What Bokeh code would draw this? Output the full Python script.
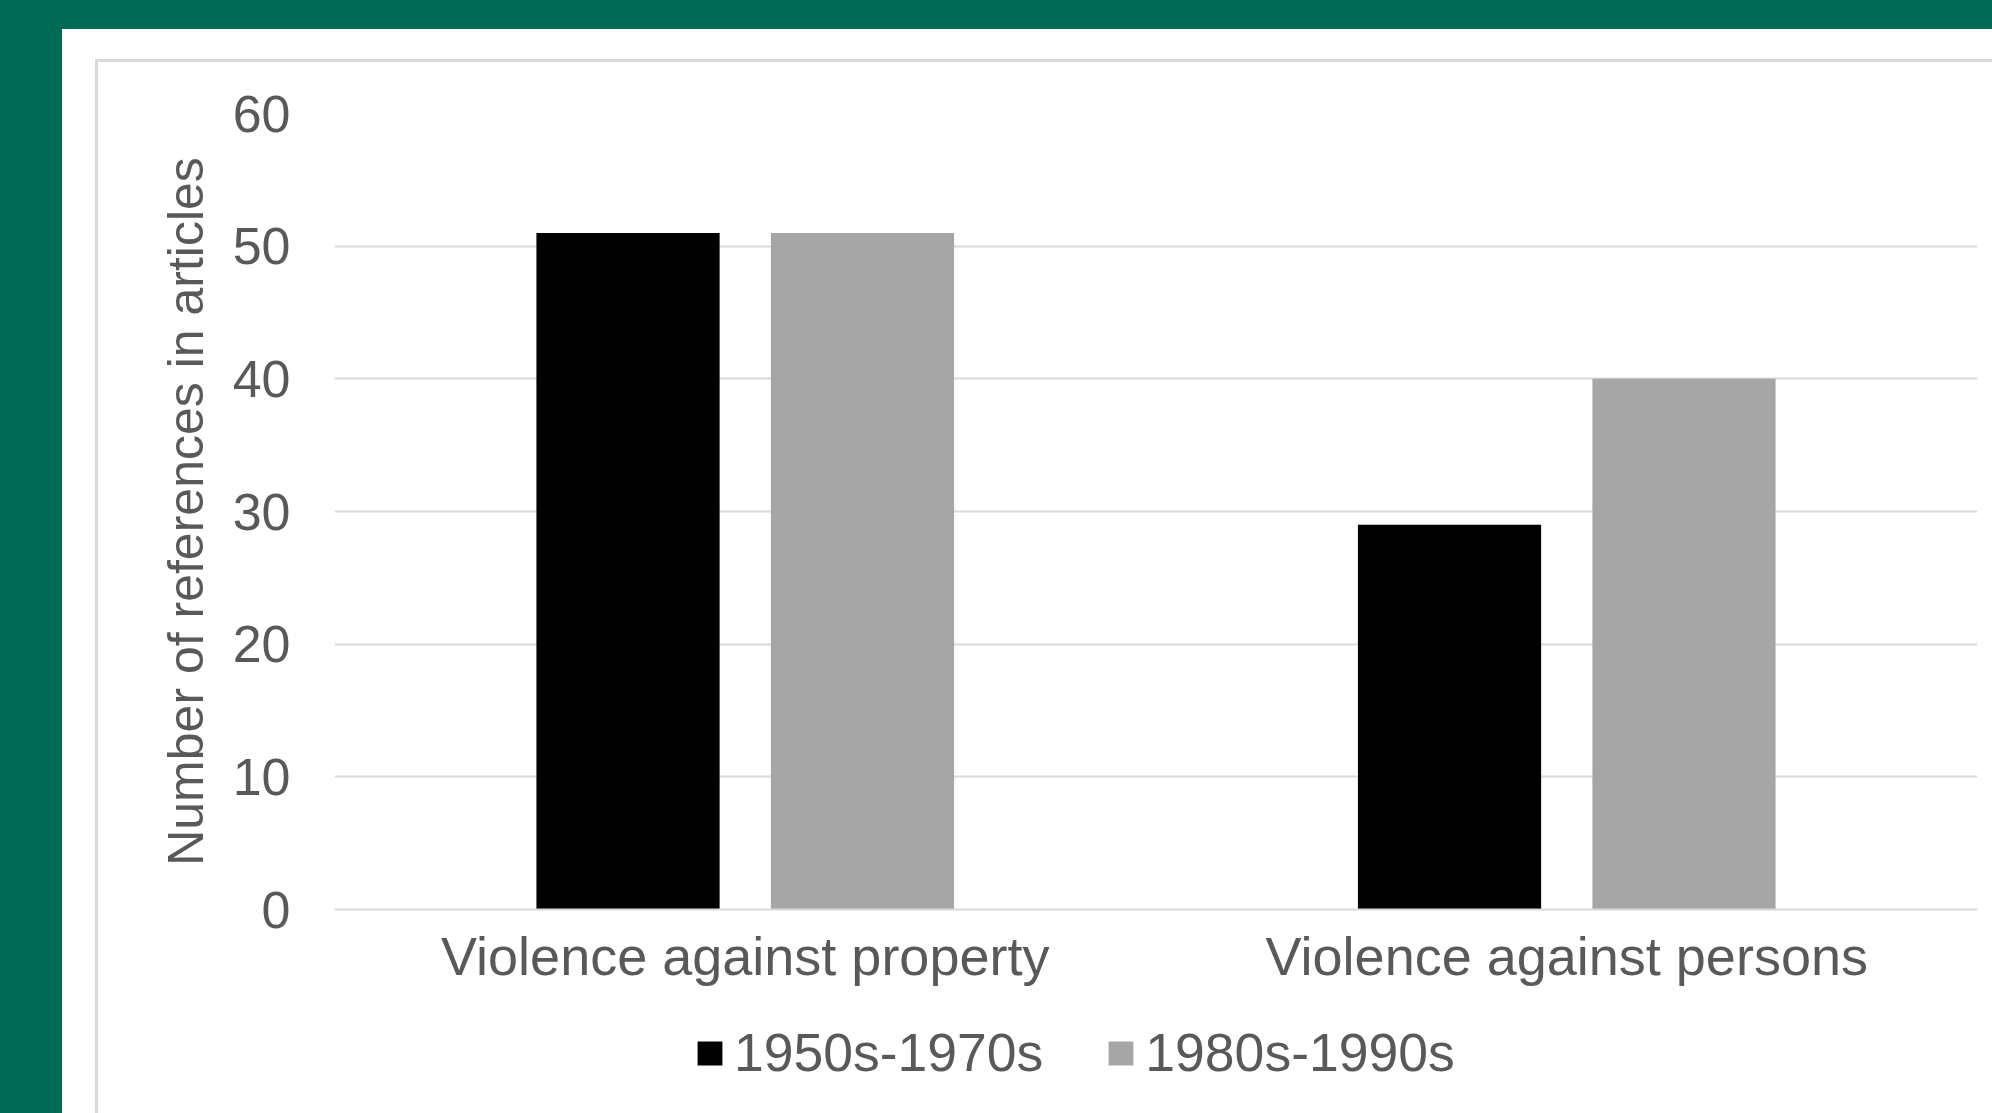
from bokeh.plotting import figure
from bokeh.models import (FactorRange, Range1d, ColumnDataSource, FixedTicker,
                          Legend, LegendItem)
from bokeh.layouts import column
from bokeh.transform import dodge
from bokeh.embed import file_html
from bokeh.resources import INLINE

# ---- data ----
categories = ["Violence against property", "Violence against persons"]
series_names = ["1950s-1970s", "1980s-1990s"]
values_1950s_1970s = [51, 29]
values_1980s_1990s = [51, 40]
y_ticks = [0, 10, 20, 30, 40, 50, 60]

FONT = "Liberation Sans"
TEXT = "#595959"
GRID = "#d9d9d9"
GREEN = "#006b54"
BLACK = "#000000"
GREY = "#a6a6a6"

source = ColumnDataSource(dict(cat=categories, a=values_1950s_1970s, b=values_1980s_1990s))

p = figure(width=1894, height=948, x_range=FactorRange(*categories),
           y_range=Range1d(0, 60), output_backend="svg", toolbar_location=None,
           min_border_left=236, min_border_right=15, min_border_top=51,
           min_border_bottom=101, border_fill_color="white",
           background_fill_color="white", outline_line_color=None)

p.vbar(x=dodge("cat", -0.1427, range=p.x_range), top="a", width=0.223,
       source=source, fill_color=BLACK, line_color=None)
p.vbar(x=dodge("cat", 0.1427, range=p.x_range), top="b", width=0.223,
       source=source, fill_color=GREY, line_color=None)

p.xgrid.grid_line_color = None
p.ygrid.grid_line_color = GRID
p.ygrid.grid_line_width = 2
p.ygrid.ticker = FixedTicker(ticks=y_ticks)

p.yaxis.ticker = FixedTicker(ticks=y_ticks)
p.yaxis.axis_line_color = None
p.yaxis.major_tick_out = 0
p.yaxis.major_tick_in = 0
p.yaxis.minor_tick_out = 0
p.yaxis.minor_tick_in = 0
p.yaxis.major_label_text_font = FONT
p.yaxis.major_label_text_font_size = "52px"
p.yaxis.major_label_text_color = TEXT
p.yaxis.major_label_standoff = 44
p.yaxis.axis_label = "Number of references in articles"
p.yaxis.axis_label_text_font = FONT
p.yaxis.axis_label_text_font_size = "50px"
p.yaxis.axis_label_text_font_style = "normal"
p.yaxis.axis_label_text_color = TEXT
p.yaxis.axis_label_standoff = 16

p.xaxis.axis_line_color = GRID
p.xaxis.axis_line_width = 2
p.xaxis.major_tick_out = 0
p.xaxis.major_tick_in = 0
p.xaxis.minor_tick_out = 0
p.xaxis.major_label_text_font = FONT
p.xaxis.major_label_text_font_size = "54px"
p.xaxis.major_label_text_color = TEXT
p.xaxis.major_label_standoff = 16

# legend strip (separate figure so the legend is not clipped)
lg = figure(width=1894, height=103, x_range=Range1d(0, 1), y_range=Range1d(0, 1),
            output_backend="svg", toolbar_location=None,
            x_axis_location=None, y_axis_location=None,
            min_border_left=0, min_border_right=0, min_border_top=0, min_border_bottom=0,
            border_fill_color="white", background_fill_color="white",
            outline_line_color=None)
lg.xgrid.grid_line_color = None
lg.ygrid.grid_line_color = None
# proxy bars lie outside the visible range; only their legend swatches show
l1 = lg.vbar(x=[5], top=[5], bottom=[4], width=0.1, fill_color=BLACK, line_color=None)
l2 = lg.vbar(x=[5], top=[5], bottom=[4], width=0.1, fill_color=GREY, line_color=None)
legend = Legend(items=[LegendItem(label=series_names[0], renderers=[l1]),
                       LegendItem(label=series_names[1], renderers=[l2])],
                orientation="horizontal", location=(360, 30),
                glyph_width=31, glyph_height=30, label_standoff=9, spacing=62,
                padding=0, margin=0, border_line_color=None,
                background_fill_alpha=0,
                label_text_font=FONT, label_text_font_size="53.5px",
                label_text_color=TEXT)
lg.add_layout(legend, "center")

bordered = column(p, lg, margin=(30, 0, 0, 33), spacing=0,
                  styles={"border-left": f"3px solid {GRID}",
                          "border-top": f"3px solid {GRID}"})
white = column(bordered, margin=(29, 0, 0, 62),
               styles={"background-color": "white"})
outer = column(white, styles={"background-color": GREEN})

open("out.html", "w").write(file_html(outer, INLINE))
